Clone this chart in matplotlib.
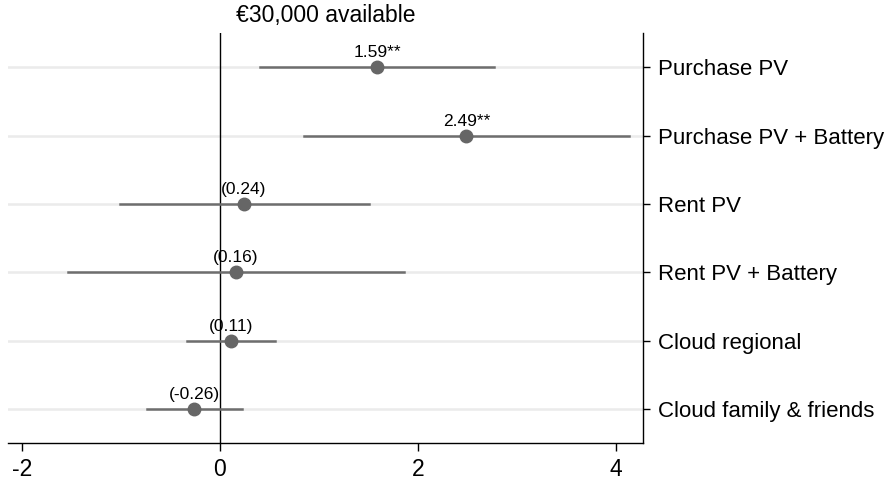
import matplotlib.pyplot as plt

plt.rcParams['font.family'] = ['Liberation Sans', 'DejaVu Sans']

options = ["Purchase PV", "Purchase PV + Battery", "Rent PV",
           "Rent PV + Battery", "Cloud regional", "Cloud family & friends"]
coef = [1.59, 2.49, 0.24, 0.16, 0.11, -0.26]
ci_low = [0.40, 0.85, -1.01, -1.53, -0.33, -0.74]
ci_high = [2.77, 4.13, 1.51, 1.86, 0.56, 0.22]
labels = ["1.59**", "2.49**", "(0.24)", "(0.16)", "(0.11)", "(-0.26)"]

fig = plt.figure(figsize=(8.89, 4.8), dpi=100)
ax = fig.add_axes([0.009, 0.077, 0.714, 0.854])

ypos = list(range(1, len(options) + 1))
xmin, xmax = -2.14, 4.27

for y in ypos:
    ax.plot([xmin, xmax], [y, y], color="#ebebeb", linewidth=1.8, zorder=1)

ax.axvline(0, color="black", linewidth=1.0, zorder=2)

for y, c, lo, hi, lab in zip(ypos, coef, ci_low, ci_high, labels):
    ax.plot([lo, hi], [y, y], color="#6e6e6e", linewidth=1.8, zorder=3)
    ax.plot(c, y, "o", color="#666666", markersize=9, zorder=4)
    ax.annotate(lab, (c, y), xytext=(0, 5), textcoords="offset points",
                ha="center", va="bottom", fontsize=12.5)

ax.set_xlim(xmin, xmax)
ax.set_ylim(6.5, 0.5)
ax.set_xticks([-2, 0, 2, 4])
ax.set_xticklabels(["-2", "0", "2", "4"])
ax.set_yticks(ypos)
ax.set_yticklabels(options)
ax.yaxis.tick_right()

ax.spines["left"].set_visible(False)
ax.spines["top"].set_visible(False)
ax.spines["right"].set_linewidth(1.0)
ax.spines["bottom"].set_linewidth(1.0)
ax.tick_params(axis="x", length=6, width=1.0, labelsize=16.5, pad=5)
ax.tick_params(axis="y", length=5, width=1.0, labelsize=16, pad=6)

ax.set_title("€30,000 available", fontsize=16.5, pad=8)

fig.savefig("out.png", dpi=100)
